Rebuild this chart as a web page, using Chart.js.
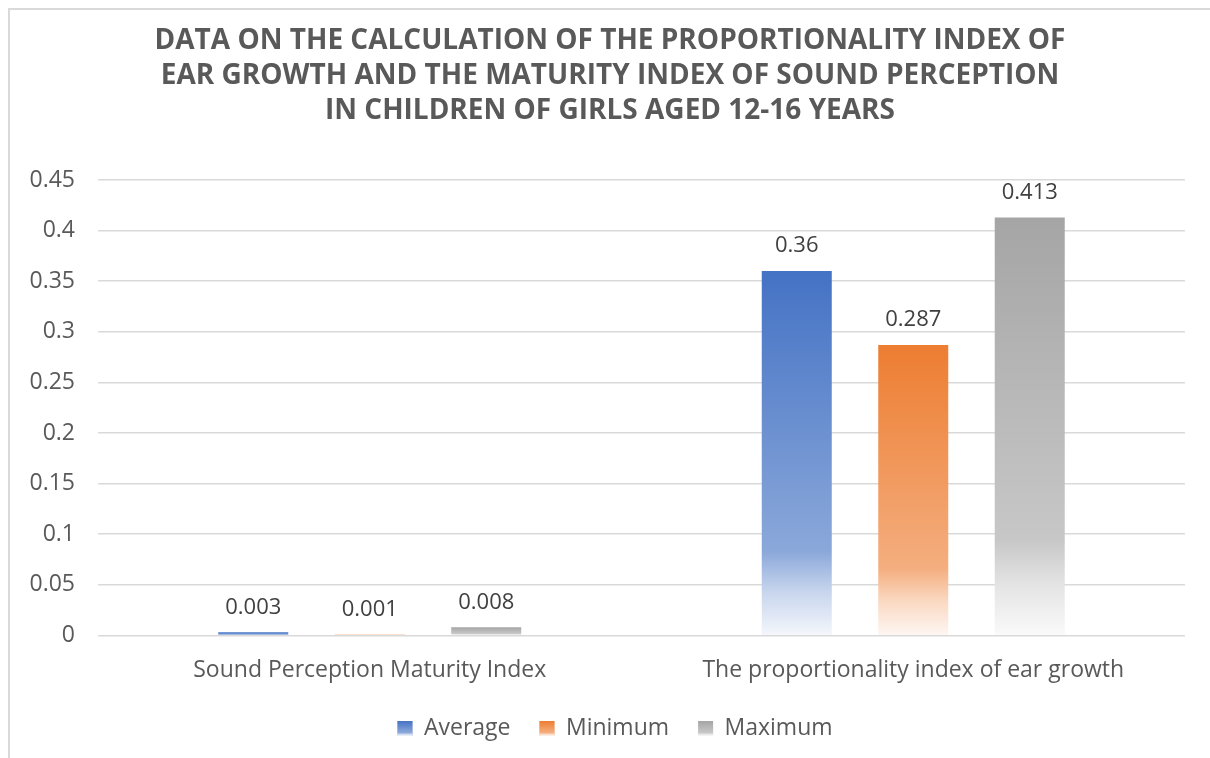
<!DOCTYPE html>
<html>
<head>
<meta charset="utf-8">
<script src="https://cdn.jsdelivr.net/npm/chart.js@4/dist/chart.umd.min.js"></script>
<style>
  html, body { margin: 0; padding: 0; background: #fff; }
  #wrap { position: relative; width: 1210px; height: 758px; overflow: hidden; }
  #frame { position: absolute; left: 8px; top: 8px; width: 1220px; height: 770px; border: 2px solid #d9d9d9; pointer-events: none; box-sizing: border-box; }
  canvas { position: absolute; left: 0; top: 0; }
</style>
</head>
<body>
<div id="wrap">
  <canvas id="c" width="1210" height="758"></canvas>
  <div id="frame"></div>
</div>
<script>
const categories = ['Sound Perception Maturity Index', 'The proportionality index of ear growth'];
const seriesNames = ['Average', 'Minimum', 'Maximum'];
const averageValues = [0.003, 0.36];
const minimumValues = [0.001, 0.287];
const maximumValues = [0.008, 0.413];
const yTickLabels = ['0', '0.05', '0.1', '0.15', '0.2', '0.25', '0.3', '0.35', '0.4', '0.45'];
const titleLines = [
  'DATA ON THE CALCULATION OF THE PROPORTIONALITY INDEX OF',
  'EAR GROWTH AND THE MATURITY INDEX OF SOUND PERCEPTION',
  'IN CHILDREN OF GIRLS AGED 12-16 YEARS'
];

const baseColors = ['#4472C4', '#ED7D31', '#A5A5A5'];

function mix(hex, t) {
  const r = parseInt(hex.slice(1,3),16), g = parseInt(hex.slice(3,5),16), b = parseInt(hex.slice(5,7),16);
  const m = c => Math.round(c + (255 - c) * t);
  return 'rgb(' + m(r) + ',' + m(g) + ',' + m(b) + ')';
}
function makeGrad(ctx2d, hex, top, bottom) {
  const g = ctx2d.createLinearGradient(0, top, 0, bottom);
  g.addColorStop(0, hex);
  g.addColorStop(0.77, mix(hex, 0.38));
  g.addColorStop(0.88, mix(hex, 0.7));
  g.addColorStop(1, mix(hex, 0.94));
  return g;
}
function barFill(idx) {
  return function(context) {
    const chart = context.chart;
    const hex = baseColors[idx];
    if (context.type !== 'data' || !chart.chartArea || !chart.scales.y) return hex;
    const y = chart.scales.y;
    const top = y.getPixelForValue(context.raw);
    const bottom = y.getPixelForValue(0);
    if (!isFinite(top) || !isFinite(bottom) || bottom - top < 0.5) return mix(hex, 0.4);
    return makeGrad(chart.ctx, hex, top, bottom);
  };
}

const dataLabelPlugin = {
  id: 'dataLabels',
  afterDatasetsDraw(chart) {
    const ctx = chart.ctx;
    ctx.save();
    ctx.font = '22px "Open Sans"';
    ctx.fillStyle = '#404040';
    ctx.textAlign = 'center';
    ctx.textBaseline = 'middle';
    chart.data.datasets.forEach((ds, di) => {
      const meta = chart.getDatasetMeta(di);
      meta.data.forEach((bar, i) => {
        ctx.fillText(String(ds.data[i]), bar.x, bar.y - 25);
      });
    });
    ctx.restore();
  }
};

// centre title and legend over the framed chart rather than over the padded layout box
const centerBlocksPlugin = {
  id: 'centerBlocks',
  afterLayout(chart) {
    if (chart.titleBlock) { chart.titleBlock.left = 35; }
    if (chart.legend) { chart.legend.left = 45; }
  }
};

const legendGradPlugin = {
  id: 'legendGrad',
  afterDraw(chart) {
    const lg = chart.legend;
    if (!lg || !lg.legendHitBoxes) return;
    const ctx = chart.ctx;
    lg.legendHitBoxes.forEach((hb, i) => {
      const bw = 15, bh = 15;
      const x = hb.left;
      const y = hb.top + (hb.height - bh) / 2;
      ctx.fillStyle = '#fff';
      ctx.fillRect(x, y, bw, bh);
      ctx.fillStyle = makeGrad(ctx, baseColors[i], y, y + bh);
      ctx.fillRect(x, y, bw, bh);
    });
  }
};

const datasets = [averageValues, minimumValues, maximumValues].map((vals, i) => ({
  label: seriesNames[i],
  data: vals,
  backgroundColor: barFill(i),
  borderWidth: 0,
  barPercentage: 0.601,
  categoryPercentage: 0.643
}));

new Chart(document.getElementById('c'), {
  type: 'bar',
  data: { labels: categories, datasets },
  options: {
    responsive: false,
    animation: false,
    layout: { padding: { left: 2, right: 25, top: 0, bottom: 8 } },
    plugins: {
      title: {
        display: true,
        text: titleLines,
        color: '#595959',
        font: { family: '"Open Sans"', size: 28, weight: 'bold', lineHeight: 1.25 },
        padding: { top: 23.5, bottom: 51.5 }
      },
      legend: {
        position: 'bottom',
        labels: {
          color: '#595959',
          font: { family: '"Open Sans"', size: 23 },
          boxWidth: 15,
          boxHeight: 15,
          padding: 29,
          generateLabels(chart) {
            return seriesNames.map((n, i) => ({
              text: n, fillStyle: baseColors[i], strokeStyle: 'transparent', lineWidth: 0, datasetIndex: i, fontColor: '#595959'
            }));
          }
        }
      },
      tooltip: { enabled: false }
    },
    scales: {
      x: {
        grid: { display: false },
        border: { display: false },
        ticks: { color: '#595959', font: { family: '"Open Sans"', size: 23 }, padding: 13, maxRotation: 0 },
        afterFit: (scale) => { scale.height -= 9; }
      },
      y: {
        min: 0, max: 0.45,
        grid: { color: '#d9d9d9', lineWidth: 1.5, drawTicks: false },
        border: { display: false },
        ticks: {
          stepSize: 0.05,
          color: '#595959',
          font: { family: '"Open Sans"', size: 23 },
          padding: 23,
          callback: (v, i) => yTickLabels[i]
        },
        afterFit: (scale) => { scale.width = 96; }
      }
    }
  },
  plugins: [dataLabelPlugin, legendGradPlugin, centerBlocksPlugin]
});
</script>
</body>
</html>
